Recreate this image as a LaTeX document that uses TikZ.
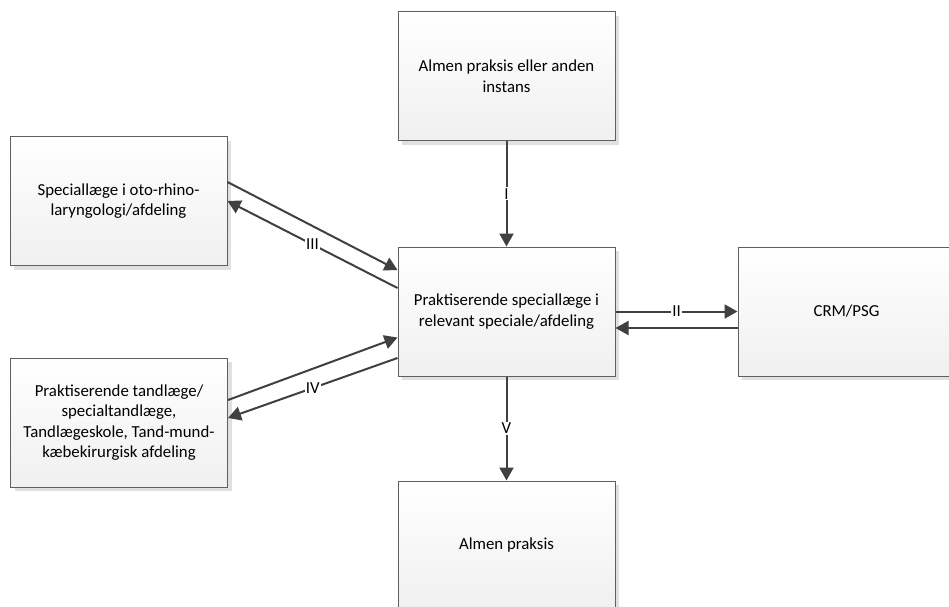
\documentclass[tikz,border=0pt]{standalone}
\usepackage{fontspec}
\setmainfont{Carlito}
\usepackage{tikz}
\usepackage{xcolor}
\usetikzlibrary{arrows.meta, positioning, shadows, calc}
\definecolor{linegray}{HTML}{404040}
\definecolor{framegray}{HTML}{5F5F5F}
\tikzset{%
  box/.style={draw=framegray, line width=1pt, rectangle, align=center,
    minimum width=217pt, minimum height=129pt, inner sep=0pt,
    top color=white, bottom color=black!6,
    drop shadow={shadow xshift=4pt, shadow yshift=-4pt, fill=black!12, opacity=1},
    font=\fontsize{16.8}{20.5}\selectfont},
  link/.style={draw=linegray, line width=2pt,
    -{Triangle[length=13pt,width=14pt]}},
  tag/.style={fill=white, inner sep=1pt, text=black,
    font=\fontsize{16.8}{18}\selectfont}
}

\begin{document}
\begin{tikzpicture}[x=1pt,y=1pt]
  \useasboundingbox (0,0) rectangle (949,-606);
  \clip (0,0) rectangle (949,-606);

  \node[box] (top) at (506.5,-76) {Almen praksis eller anden\\instans};
  \node[box] (mid) at (506.5,-311.5) {Praktiserende speciallæge i\\relevant speciale/afdeling};
  \node[box] (almen) at (506.5,-545.5) {Almen praksis};
  \node[box] (crm) at (846.5,-311.5) {CRM/PSG};
  \node[box] (oto) at (118.5,-201) {Speciallæge i oto-rhino-\\laryngologi/afdeling};
  \node[box] (tand) at (119,-422.5) {Praktiserende tandlæge/\\specialtandlæge,\\Tandlægeskole, Tand-mund-\\kæbekirurgisk afdeling};

  \draw[link] (top) to node[tag] {I} (mid);
  \draw[link] (mid) to node[tag] {V} (almen);

  \draw[link] (mid.east) to node[tag] {II} (crm.west);
  \draw[link] ([yshift=-16.5pt]crm.west) to ([yshift=-16.5pt]mid.east);

  \draw[link] ([yshift=19pt]oto.east) to ([yshift=41.5pt]mid.west);
  \draw[link] ([yshift=23.5pt]mid.west) to node[tag] {III} (oto.east);

  \draw[link] ([yshift=22.5pt]tand.east) to ([yshift=-26pt]mid.west);
  \draw[link] ([yshift=-46.5pt]mid.west) to node[tag] {IV} ([yshift=4.5pt]tand.east);
\end{tikzpicture}
\end{document}
